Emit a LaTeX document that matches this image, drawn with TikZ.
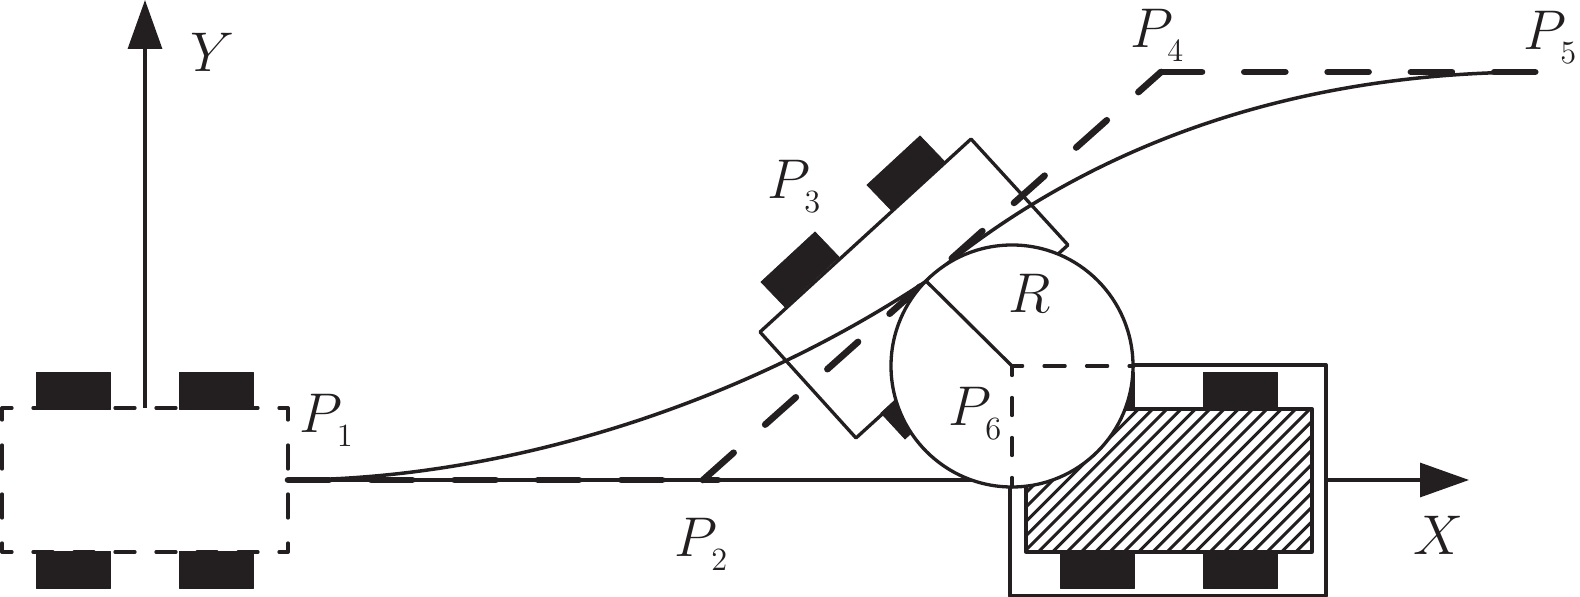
\documentclass[tikz,border=0pt]{standalone}
\usetikzlibrary{arrows.meta}
\DeclareMathSizes{24.88}{24.88}{14.4}{10}
\definecolor{inkblack}{HTML}{231F20}
\tikzset{
  thinline/.style={draw=inkblack, line width=1.65pt, line join=round},
  thickdash/.style={draw=inkblack, line width=3.3pt, line cap=round, dash pattern=on 20.5pt off 21.15pt},
  edgedash/.style={thinline, line cap=round, dash pattern=on 10pt off 10.5pt, dash phase=5pt},
  sidedash/.style={thinline, line cap=round, dash pattern=on 12pt off 12.5pt, dash phase=6pt},
  wheel/.style={fill=inkblack, draw=inkblack, line width=0.4pt, line join=round},
  axisarrow/.style={thinline, -{Triangle[length=24.5pt, width=17pt, fill=inkblack]}},
  pointlabel/.style={anchor=base west, inner sep=0pt, outer sep=0pt, text=inkblack, font=\Huge, scale=1.125, transform shape}
}
\newcommand{\Psub}[1]{$P_{\kern0.9pt\lower2.2pt\hbox{$\scriptstyle #1$}}$}
\begin{document}
\begin{tikzpicture}[x=0.5pt, y=-0.5pt]
\useasboundingbox (0,0) rectangle (1580,597);
\coordinate (P1) at (288,480);
\coordinate (P2) at (703,480);
\coordinate (P2end) at (718,480);
\coordinate (P4) at (1161,72);
\coordinate (P5) at (1537,72);
\coordinate (P6) at (1012,366);
\coordinate (Pmid) at (925,282);
\coordinate (Rend) at (925,280);
\coordinate (YO) at (145,408);
\coordinate (YT) at (145,0);
\coordinate (XO) at (1326,480);
\coordinate (XT) at (1469,480);
\coordinate (Cend) at (980,480);
\coordinate (Hend) at (1134,366);
\coordinate (Vend) at (1012,487);
\foreach \x in {36,179} {
  \fill[wheel] (\x,372) rectangle (\x+74,409);
  \fill[wheel] (\x,551) rectangle (\x+74,588);
}
\draw[edgedash] (2,408) -- (288,408);
\draw[edgedash] (2,552) -- (288,552);
\draw[sidedash] (2,408) -- (2,552);
\draw[sidedash] (288,408) -- (288,552);
\draw[axisarrow] (YO) -- (YT);
\foreach \x in {1060,1203} {
  \fill[wheel] (\x,372) rectangle (\x+74,409);
  \fill[wheel] (\x,551) rectangle (\x+74,588);
}
\begin{scope}
\clip (1026,409) rectangle (1312,552);
\foreach \x in {0,...,31} {
  \draw[draw=inkblack, line width=1.5pt] (1024-143+14.3*\x,552) -- (1024+14.3*\x,409);
}
\end{scope}
\draw[thinline] (1026,409) rectangle (1312,552);
\draw[thinline] (1010,365) rectangle (1326,596);
\draw[axisarrow] (XO) -- (XT);
\fill[wheel] (867,185) -- (920,136) -- (945,162) -- (892,211) -- cycle;
\fill[wheel] (761,282) -- (815,232) -- (839,257) -- (785,307) -- cycle;
\fill[wheel] (881,413) -- (935,363) -- (959,389) -- (905,439) -- cycle;
\fill[wheel] (988,317) -- (1041,268) -- (1065,294) -- (1012,343) -- cycle;
\draw[thinline] (760,332) -- (971,139) -- (1068,245) -- (856,438) -- cycle;
\draw[thinline] (P1) -- (Cend);
\draw[thinline, line width=1.75pt] (P1) .. controls (488,480) and (725,414) .. (Pmid)
  .. controls (1075,154.5) and (1277,72) .. (P5);
\draw[thickdash] (P1) -- (P2end);
\draw[thickdash] (P2) -- (P4);
\draw[thickdash] (P4) -- (P5);
\draw[thinline, fill=white] (P6) circle (121);
\draw[thinline] (Rend) -- (P6);
\draw[thinline, line cap=round, dash pattern=on 10.5pt off 10.75pt, dash phase=5.2pt] (P6) -- (Hend);
\draw[thinline, line cap=round, dash pattern=on 9pt off 11pt, dash phase=4.25pt] (P6) -- (Vend);
\node[pointlabel] (LP1) at (299.5,433) {\Psub{1}};
\node[pointlabel] (LP2) at (674,557) {\Psub{2}};
\node[pointlabel] (LP3) at (767,199) {\Psub{3}};
\node[pointlabel] (LP4) at (1130,48) {\Psub{4}};
\node[pointlabel] (LP5) at (1523,50) {\Psub{5}};
\node[pointlabel] (LP6) at (948,426) {\Psub{6}};
\node[pointlabel] (LR) at (1008,313) {$R$};
\node[pointlabel] (LX) at (1413,555) {$X$};
\node[pointlabel] (LY) at (190,72) {$Y$};
\end{tikzpicture}
\end{document}
